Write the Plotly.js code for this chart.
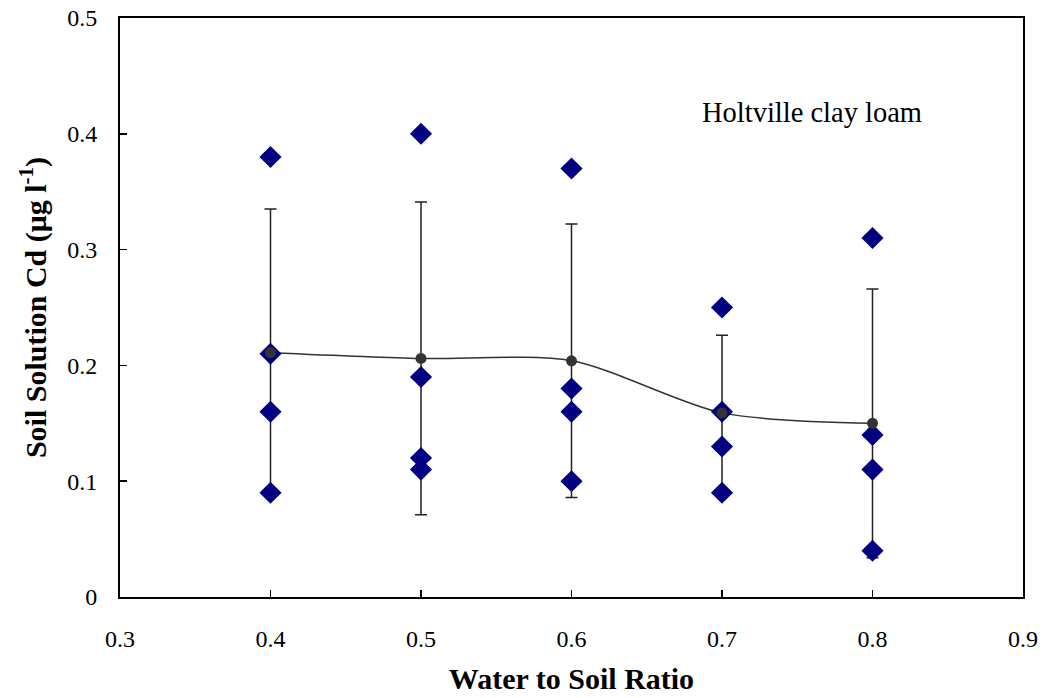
<!DOCTYPE html>
<html><head><meta charset="utf-8">
<script src="https://cdn.plot.ly/plotly-3.0.1.min.js"></script>
<style>html,body{margin:0;padding:0;background:#fff}#chart{width:1044px;height:698px}</style>
</head><body><div id="chart"></div>
<script>
const ratioX = [0.4, 0.5, 0.6, 0.7, 0.8];
const rep1 = [0.38, 0.40, 0.37, 0.25, 0.31];
const rep2 = [0.21, 0.19, 0.18, 0.16, 0.14];
const rep3 = [0.16, 0.12, 0.16, 0.13, 0.11];
const rep4 = [0.09, 0.11, 0.10, 0.09, 0.04];
const meanY = [0.211, 0.206, 0.204, 0.159, 0.150];
const errSD = [0.124, 0.135, 0.118, 0.067, 0.116];

const diamondX = [], diamondY = [];
[rep1, rep2, rep3, rep4].forEach(r => r.forEach((v, i) => { diamondX.push(ratioX[i]); diamondY.push(v); }));

const traces = [
  {x: ratioX, y: meanY, type: 'scatter', mode: 'lines', line: {color: '#333', width: 1.5, shape: 'spline', smoothing: 0.8}, hoverinfo: 'skip', showlegend: false},
  {x: ratioX, y: meanY, type: 'scatter', mode: 'markers', marker: {color: 'rgba(0,0,0,0)', size: 1},
   error_y: {type: 'data', array: errSD, visible: true, color: '#222', thickness: 1.5, width: 6}, showlegend: false},
  {x: diamondX, y: diamondY, type: 'scatter', mode: 'markers', marker: {symbol: 'diamond', color: '#000080', size: 17}, showlegend: false},
  {x: ratioX, y: meanY, type: 'scatter', mode: 'markers', marker: {symbol: 'circle', color: '#333333', size: 11}, showlegend: false}
];

const font = {family: '"Liberation Serif", "Times New Roman", serif', color: '#000'};
const layout = {
  width: 1044, height: 698,
  margin: {l: 120, r: 21, t: 18, b: 101},
  paper_bgcolor: '#fff', plot_bgcolor: '#fff',
  font: Object.assign({size: 24}, font),
  showlegend: false,
  xaxis: {
    range: [0.3, 0.9], tickvals: [0.3, 0.4, 0.5, 0.6, 0.7, 0.8, 0.9],
    ticktext: ['0.3', '0.4', '0.5', '0.6', '0.7', '0.8', '0.9'],
    ticks: 'inside', ticklen: 7, tickwidth: 1.5, tickcolor: '#000',
    showline: true, linecolor: '#000', linewidth: 2, mirror: true,
    showgrid: false, zeroline: false, ticklabelstandoff: 19,
    tickfont: Object.assign({size: 24}, font),
    title: {text: '<b>Water to Soil Ratio</b>', font: Object.assign({size: 30}, font), standoff: 17}
  },
  yaxis: {
    range: [0, 0.5], tickvals: [0, 0.1, 0.2, 0.3, 0.4, 0.5],
    ticktext: ['0', '0.1', '0.2', '0.3', '0.4', '0.5'],
    ticks: 'inside', ticklen: 7, tickwidth: 1.5, tickcolor: '#000',
    showline: true, linecolor: '#000', linewidth: 2, mirror: true,
    showgrid: false, zeroline: false, ticklabelstandoff: 16,
    tickfont: Object.assign({size: 24}, font),
    title: {text: '<b>Soil Solution Cd (μg l<sup>-1</sup>)</b>', font: Object.assign({size: 30}, font), standoff: 12}
  },
  annotations: [{
    x: 0.76, y: 0.418, xref: 'x', yref: 'y', showarrow: false, xanchor: 'center',
    text: 'Holtville clay loam', font: Object.assign({size: 28.5}, font)
  }]
};
Plotly.newPlot('chart', traces, layout, {displayModeBar: false, staticPlot: true});
</script></body></html>
